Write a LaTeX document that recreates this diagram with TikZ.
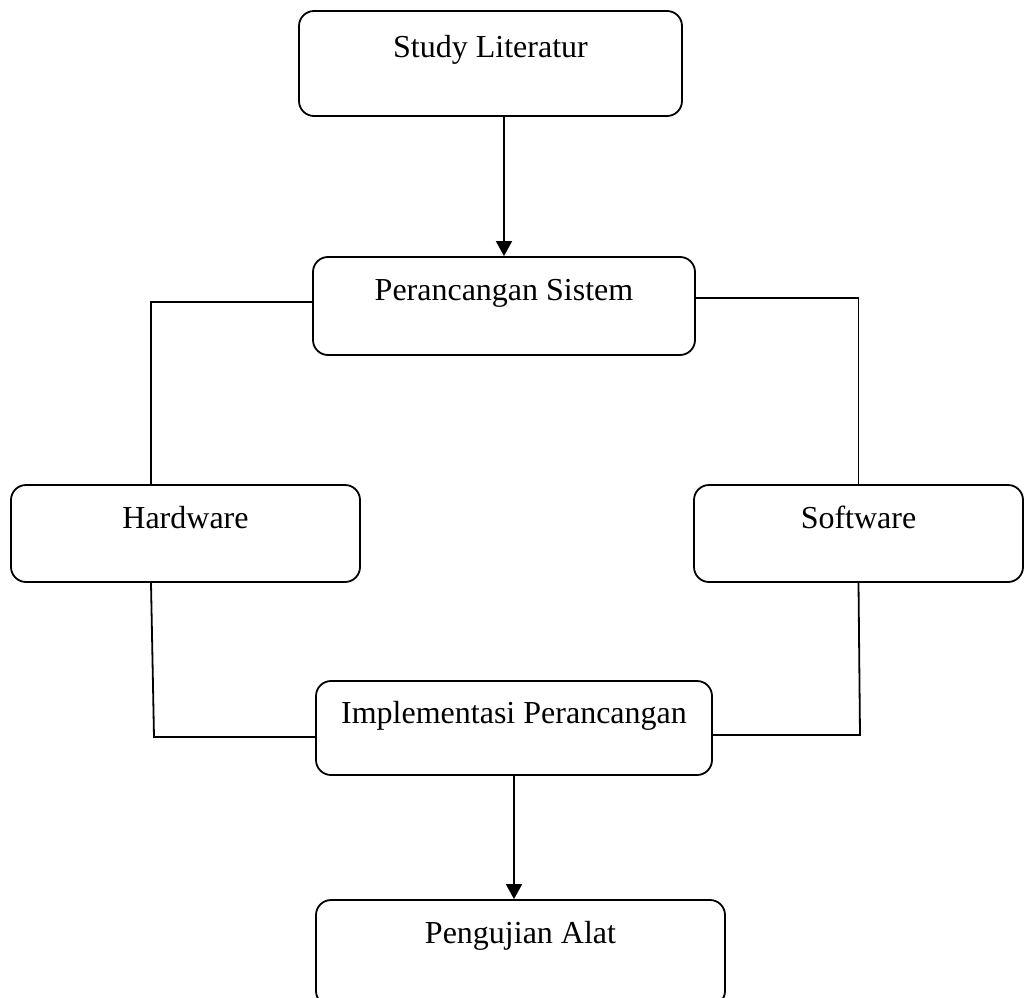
\documentclass[tikz,border=0pt]{standalone}
\usepackage{fontspec,tikz}
\usetikzlibrary{arrows.meta}
\setmainfont{Liberation Serif}
\tikzset{
  stepbox/.style={draw, line width=1.8pt, rounded corners=15pt, inner sep=0pt,
    font=\fontsize{32.0}{38.4}\selectfont},
  link/.style={line width=1.8pt},
  flow/.style={line width=1.8pt, -{Triangle[length=15pt,width=16pt]}}
}
\begin{document}
\begin{tikzpicture}[x=1pt,y=-1pt]
\path[use as bounding box] (0,0) rectangle (1025.0,998.0);
\node[stepbox,minimum width=383pt,text height=47pt,text depth=58pt] (study) at (490.5,63.5) {Study Literatur};
\node[stepbox,minimum width=382pt,text height=43pt,text depth=55pt] (design) at (504,306) {Perancangan Sistem};
\node[stepbox,minimum width=349pt,text height=43pt,text depth=54pt] (hw) at (185.5,533.5) {Hardware};
\node[stepbox,minimum width=329pt,text height=43pt,text depth=54pt] (sw) at (858.5,533.5) {Software};
\node[stepbox,minimum width=396pt,text height=42pt,text depth=52pt] (impl) at (514,728) {Implementasi Perancangan};
\node[stepbox,minimum width=409pt,text height=43pt,text depth=63pt] (test) at (520.5,953) {Pengujian Alat};
\coordinate (hwcorner) at (154,737);
\coordinate (swcorner) at (860,735);
\draw[flow] (design.north |- study.south) -- (design.north);
\draw[link] ([yshift=4pt]design.west) -| ([xshift=-34.5pt]hw.north);
\draw[link] ([yshift=8pt]design.east) -| (sw.north);
\draw[link] ([xshift=-34.5pt]hw.south) -- (hwcorner) -- (impl.west |- hwcorner);
\draw[link] (sw.south) -- (swcorner) -- (impl.east |- swcorner);
\draw[flow] (impl.south) -- (impl.south |- test.north);
\end{tikzpicture}
\end{document}
